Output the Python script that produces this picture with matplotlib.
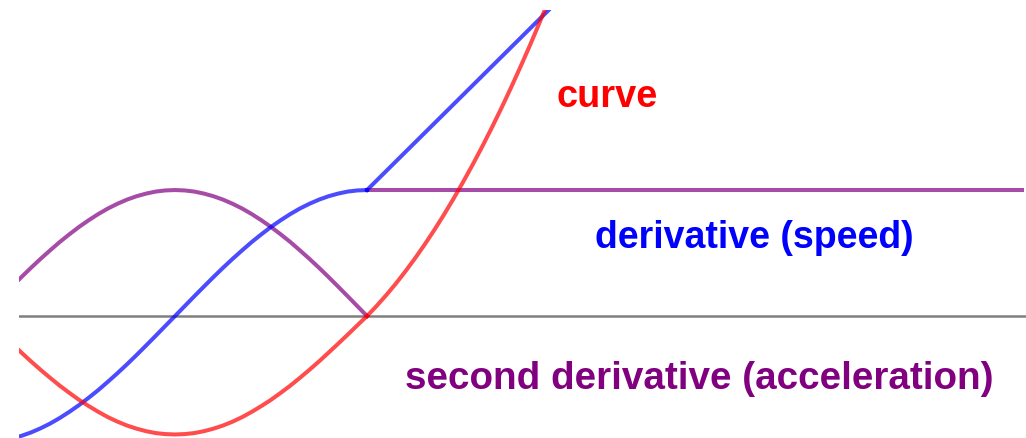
import matplotlib.pyplot as plt

# time axis, one unit = quarter period of the acceleration wave
t_wave = [0.15, 0.2, 0.25, 0.3, 0.35, 0.4, 0.45, 0.5, 0.55, 0.6, 0.65, 0.7, 0.75,
          0.8, 0.85, 0.9, 0.95, 1.0, 1.05, 1.1, 1.15, 1.2, 1.25, 1.3, 1.35, 1.4,
          1.45, 1.5, 1.55, 1.6, 1.65, 1.7, 1.75, 1.8, 1.85, 1.9, 1.95, 2.0]
accel_wave = [0.233, 0.309, 0.383, 0.454, 0.522, 0.588, 0.649, 0.707, 0.760, 0.809,
              0.853, 0.891, 0.924, 0.951, 0.972, 0.988, 0.997, 1.000,
              0.997, 0.988, 0.972, 0.951, 0.924, 0.891, 0.853, 0.809, 0.760, 0.707,
              0.649, 0.588, 0.522, 0.454, 0.383, 0.309, 0.233, 0.156, 0.078, 0.000]
speed_wave = [-0.972, -0.951, -0.924, -0.891, -0.853, -0.809, -0.760, -0.707, -0.649,
              -0.588, -0.522, -0.454, -0.383, -0.309, -0.233, -0.156, -0.078, 0.000,
              0.078, 0.156, 0.233, 0.309, 0.383, 0.454, 0.522, 0.588, 0.649, 0.707,
              0.760, 0.809, 0.853, 0.891, 0.924, 0.951, 0.972, 0.988, 0.997, 1.000]
pos_wave = [-0.219, -0.290, -0.360, -0.427, -0.491, -0.553, -0.610, -0.665, -0.714,
            -0.760, -0.802, -0.838, -0.869, -0.894, -0.914, -0.929, -0.937, -0.940,
            -0.937, -0.929, -0.914, -0.894, -0.869, -0.838, -0.802, -0.760, -0.714,
            -0.665, -0.610, -0.553, -0.491, -0.427, -0.360, -0.290, -0.219, -0.147,
            -0.073, 0.000]

# constant acceleration part
t_flat = [2.0, 5.41]
accel_flat = [1.0, 1.0]
t_speed_ramp = [2.0, 3.0]
speed_ramp = [1.00, 2.51]
t_pos_ramp = [2.0, 2.05, 2.1, 2.15, 2.2, 2.25, 2.3, 2.35, 2.4, 2.45, 2.5,
              2.55, 2.6, 2.65, 2.7, 2.75, 2.8, 2.85, 2.9, 2.95, 3.0]
pos_ramp = [0.000, 0.080, 0.166, 0.257, 0.355, 0.458, 0.567, 0.682, 0.803, 0.930, 1.063,
            1.201, 1.345, 1.495, 1.651, 1.813, 1.981, 2.154, 2.334, 2.519, 2.710]

fig = plt.figure(figsize=(10.26, 4.38), dpi=100)
ax = fig.add_axes([19 / 1026, 0, 1 - 19 / 1026, 428 / 438])
ax.set_xlim(0.1875, 5.432)
ax.set_ylim(-0.968, 2.429)
ax.axis('off')

lw = 2.9
ax.axhline(0, color='black', alpha=0.5, lw=1.8)
ax.plot(t_wave, accel_wave, color='#800080', alpha=0.7, lw=lw)
ax.plot(t_flat, accel_flat, color='#800080', alpha=0.7, lw=lw)
ax.plot(t_wave, speed_wave, color='blue', alpha=0.7, lw=lw)
ax.plot(t_speed_ramp, speed_ramp, color='blue', alpha=0.7, lw=lw)
ax.plot(t_wave, pos_wave, color='red', alpha=0.7, lw=lw)
ax.plot(t_pos_ramp, pos_ramp, color='red', alpha=0.7, lw=lw)

font = dict(family='Liberation Sans', fontweight='bold', va='baseline', ha='left')
fig.text(557 / 1026, 1 - 107 / 438, 'curve', color='red', fontsize=27.3, **font)
fig.text(595 / 1026, 1 - 248 / 438, 'derivative (speed)', color='blue', fontsize=27, **font)
fig.text(405 / 1026, 1 - 389 / 438, 'second derivative (acceleration)', color='#800080',
         fontsize=27.8, **font)

plt.savefig('out.png', dpi=100)
